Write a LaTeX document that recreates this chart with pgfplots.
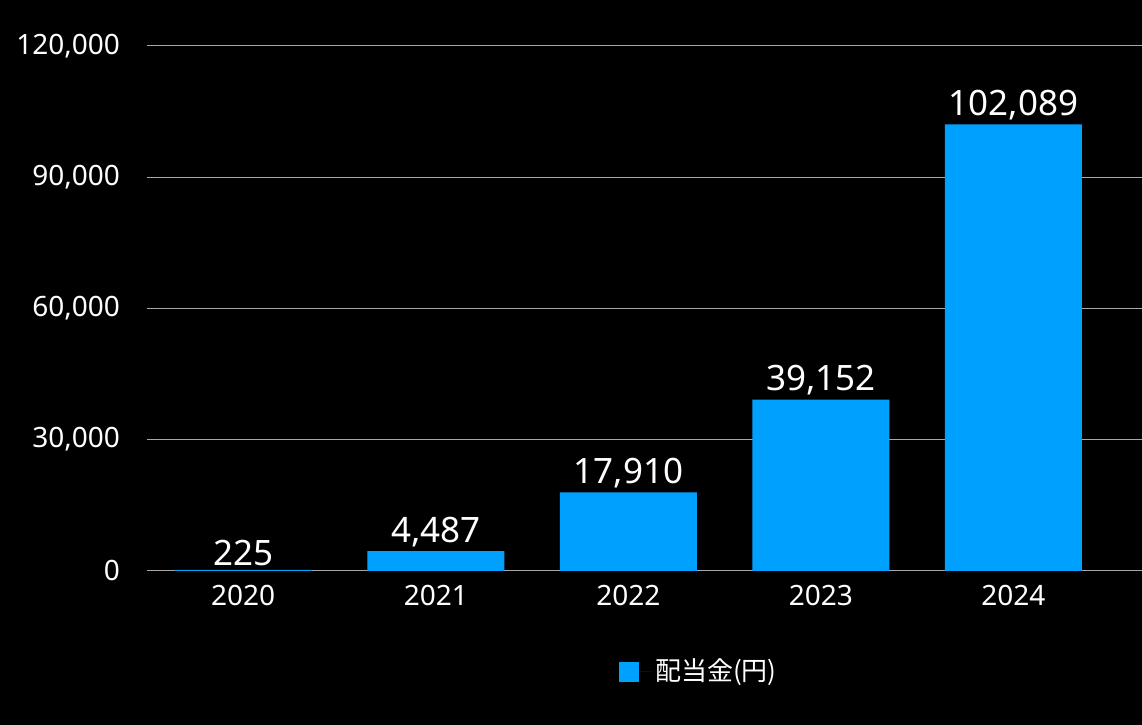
\documentclass[border=0pt]{standalone}
\usepackage{fontspec}
\setmainfont{Noto Sans}
\newfontfamily\cjk{Noto Sans CJK JP}
\usepackage{pgfplots}
\pgfplotsset{compat=1.18}
\definecolor{barblue}{HTML}{00A0FF}
\definecolor{gridgray}{HTML}{A8A8A8}
\begin{document}
\begin{tikzpicture}
\fill[black] (0,0) rectangle (571pt,362.5pt);
\begin{axis}[
  at={(73.5pt,77pt)}, anchor=south west,
  scale only axis, width=497.5pt, height=262.5pt,
  xmin=-0.5, xmax=4.665, ymin=0, ymax=120000,
  axis line style={draw=none},
  major tick length=0pt,
  ymajorgrids, grid style={gridgray, line width=0.5pt},
  ytick={0,30000,60000,90000,120000},
  xtick={0,1,2,3,4}, xticklabels={2020,2021,2022,2023,2024},
  scaled y ticks=false,
  /pgf/number format/assume math mode=true,
  /pgf/number format/fixed,
  /pgf/number format/precision=0,
  /pgf/number format/1000 sep={,},
  yticklabel style={anchor=east, xshift=-10pt},
  xticklabel style={anchor=north, yshift=-3.5pt},
  tick label style={white, font=\fontsize{14}{17}\selectfont},
  ybar, bar width=68.5pt, bar shift=0pt,
  nodes near coords,
  nodes near coords style={white, font=\fontsize{17.5}{21}\selectfont, anchor=south, yshift=-1.5pt},
  legend style={draw=none, fill=none, text=white, font=\cjk\fontsize{13}{16}\selectfont,
    at={(0.556,-0.192)}, anchor=center},
  legend image code/.code={\fill[barblue] (0pt,-5pt) rectangle (10pt,5pt); \path (0pt,0pt) -- (16pt,0pt);},
]
\addplot[fill=barblue, draw=none] coordinates {(0,225) (1,4487) (2,17910) (3,39152) (4,102089)};
\addlegendentry{配当金(円)}
\end{axis}
\end{tikzpicture}
\end{document}
